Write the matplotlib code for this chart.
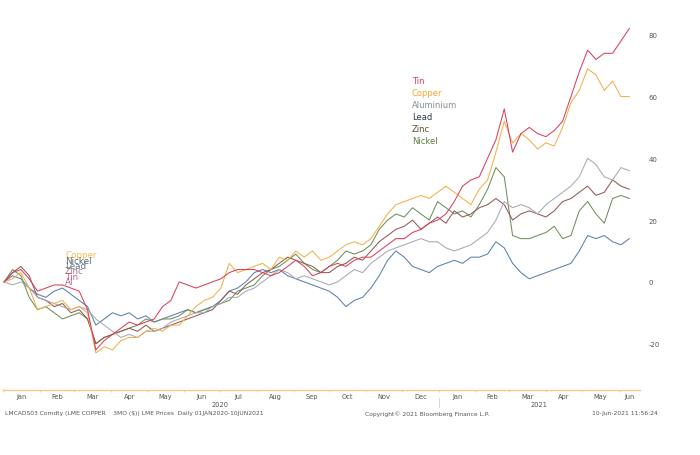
import numpy as np
import pandas as pd
import matplotlib
matplotlib.use("Agg")
import matplotlib.pyplot as plt
import matplotlib.dates as mdates

plt.rcParams["axes.unicode_minus"] = False

# weekly % change vs 2 Jan 2020
dates = pd.date_range("2020-01-02", periods=76, freq="7D")

tin = [0, 3, 4, 1, -3, -2, -1, -1, -2, -3, -9, -22, -19, -17, -15, -13, -14, -13, -12, -8,
       -6, 0, -1, -2, -1, 0, 1, 3, 4, 4, 4, 3, 2, 3, 5, 7, 5, 2, 3, 5,
       6, 5, 7, 8, 8, 10, 12, 14, 14, 16, 17, 19, 20, 22, 26, 31, 33, 34, 40, 46,
       56, 42, 48, 50, 48, 47, 49, 52, 60, 68, 75, 72, 74, 74, 78, 82]
copper = [0, 1, 3, -2, -9, -8, -7, -6, -9, -8, -10, -23, -21, -22, -19, -18, -18, -16, -15, -16,
          -14, -14, -11, -8, -6, -5, -2, 6, 3, 4, 5, 6, 4, 8, 7, 10, 8, 10, 7, 8,
          10, 12, 13, 12, 14, 18, 22, 25, 26, 27, 28, 27, 29, 31, 29, 27, 25, 30, 33, 42,
          52, 45, 48, 46, 43, 45, 44, 50, 58, 62, 69, 67, 62, 65, 60, 60]
aluminium = [0, -1, 0, -2, -5, -6, -7, -8, -9, -8, -9, -12, -14, -16, -18, -17, -18, -16, -16, -15,
             -13, -12, -11, -10, -10, -8, -7, -5, -5, -3, -2, 0, 2, 4, 3, 1, 2, 1, 0, -1,
             0, 2, 4, 3, 6, 8, 10, 11, 12, 13, 14, 13, 13, 11, 10, 11, 12, 14, 16, 20,
             26, 24, 25, 24, 22, 25, 27, 29, 31, 34, 40, 38, 34, 33, 37, 36]
lead = [0, 2, 1, -2, -4, -5, -3, -2, -4, -6, -8, -14, -12, -10, -11, -10, -12, -11, -13, -12,
        -11, -10, -9, -10, -9, -8, -6, -3, -2, 0, 3, 4, 3, 4, 2, 1, 0, -1, -2, -3,
        -5, -8, -6, -5, -2, 2, 7, 10, 8, 5, 4, 3, 5, 6, 7, 6, 8, 8, 9, 13,
        11, 6, 3, 1, 2, 3, 4, 5, 6, 10, 15, 14, 15, 13, 12, 14]
zinc = [0, 3, 5, 2, -5, -6, -8, -7, -10, -9, -12, -20, -18, -17, -16, -15, -16, -14, -16, -15,
        -14, -13, -12, -11, -10, -9, -6, -3, -4, -1, 1, 3, 4, 6, 8, 7, 6, 5, 3, 3,
        5, 6, 8, 7, 10, 13, 15, 17, 18, 20, 17, 19, 21, 19, 23, 21, 22, 24, 25, 27,
        25, 20, 22, 23, 22, 21, 23, 26, 27, 29, 31, 28, 29, 33, 31, 30]
nickel = [0, 4, 2, -5, -9, -8, -10, -12, -11, -10, -12, -20, -18, -17, -16, -15, -14, -12, -13, -12,
          -12, -11, -9, -10, -9, -8, -7, -6, -3, -2, -1, 2, 4, 5, 7, 9, 6, 4, 3, 5,
          7, 10, 9, 10, 12, 17, 20, 22, 21, 24, 22, 20, 26, 24, 22, 23, 21, 25, 30, 37,
          34, 15, 14, 14, 15, 16, 18, 14, 15, 23, 26, 22, 19, 27, 28, 27]

names = ["Tin", "Copper", "Aluminium", "Lead", "Zinc", "Nickel"]
series = [tin, copper, aluminium, lead, zinc, nickel]
line_colors = ["#d9415a", "#f2b04a", "#a9a9b2", "#5b7fae", "#8f5a55", "#6f8f5a"]
text_colors = ["#d23c55", "#f0a830", "#8a8a95", "#2b3550", "#5a4a30", "#5f7f3a"]

fig = plt.figure(figsize=(7, 4.56), dpi=100)
ax = fig.add_axes([3 / 700, (456 - 391) / 456, 637 / 700, 371 / 456])

# draw order: lowest first so tin/copper sit on top
for i in [3, 5, 4, 2, 1, 0]:
    ax.plot(dates, series[i], color=line_colors[i], lw=0.75)

ax.set_xlim(pd.Timestamp("2020-01-01"), pd.Timestamp("2021-06-19"))
ax.set_ylim(-35, 85.1)

for s in ["top", "left", "right"]:
    ax.spines[s].set_visible(False)
ax.spines["bottom"].set_color("#f3c98a")
ax.spines["bottom"].set_linewidth(1.0)

# y ticks on the right
ax.yaxis.tick_right()
ax.set_yticks([-20, 0, 20, 40, 60, 80])
ax.tick_params(axis="y", length=0, pad=6, labelsize=5, labelcolor="#555555")

# month labels centred in each visible month
xmin, xmax = ax.get_xlim()
starts = pd.date_range("2020-01-01", "2021-07-01", freq="MS")
centers, labels = [], []
for a, b in zip(starts[:-1], starts[1:]):
    lo = max(mdates.date2num(a), xmin)
    hi = min(mdates.date2num(b), xmax)
    if hi > lo:
        centers.append((lo + hi) / 2)
        labels.append(a.strftime("%b"))
ax.set_xticks(centers)
ax.set_xticklabels(labels)
ax.tick_params(axis="x", length=0, pad=2.5, labelsize=4.8, labelcolor="#555555")
ax.set_xticks([mdates.date2num(d) for d in starts if mdates.date2num(d) <= xmax], minor=True)
ax.tick_params(axis="x", which="minor", length=1.5, color="#f3c98a", width=0.6)

# year labels and separator
ax.text(mdates.date2num(pd.Timestamp("2020-07-01")), -39.5, "2020", ha="center", va="center",
        fontsize=4.8, color="#555555", clip_on=False)
ax.text(mdates.date2num(pd.Timestamp("2021-03-26")), -39.5, "2021", ha="center", va="center",
        fontsize=4.8, color="#555555", clip_on=False)
ax.plot([mdates.date2num(pd.Timestamp("2021-01-01"))] * 2, [-37.5, -40.5], color="#cfcfcf",
        lw=0.6, clip_on=False)

# legend block
for i, (n, c) in enumerate(zip(names, text_colors)):
    fig.text(412 / 700, 1 - (82 + 12 * i) / 456, n, color=c, fontsize=6, va="center")

# overlapping end labels near the start of the chart (overlap as in the original)
cluster = ["Copper", "Nickel", "Lead", "Zinc", "Tin", "Al"]
cluster_colors = ["#f0b040", "#3e4e58", "#3f5f78", "#9a6070", "#d04060", "#a04a8a"]
for i, (n, c) in enumerate(zip(cluster, cluster_colors)):
    fig.text(65 / 700, 1 - (256 + 5.3 * i) / 456, n, color=c, fontsize=6.3, va="center", alpha=0.85)

# footer
fig.text(5 / 700, 1 - 414 / 456, "LMCADS03 Comdty (LME COPPER    3MO ($)) LME Prices  Daily 01JAN2020-10JUN2021",
         fontsize=4.3, color="#555555", va="center")
fig.text(365 / 700, 1 - 414 / 456, "Copyright\u00a9 2021 Bloomberg Finance L.P.",
         fontsize=4.3, color="#555555", va="center")
fig.text(592 / 700, 1 - 414 / 456, "10-Jun-2021 11:56:24",
         fontsize=4.3, color="#555555", va="center")

fig.savefig("out.png", dpi=100)
